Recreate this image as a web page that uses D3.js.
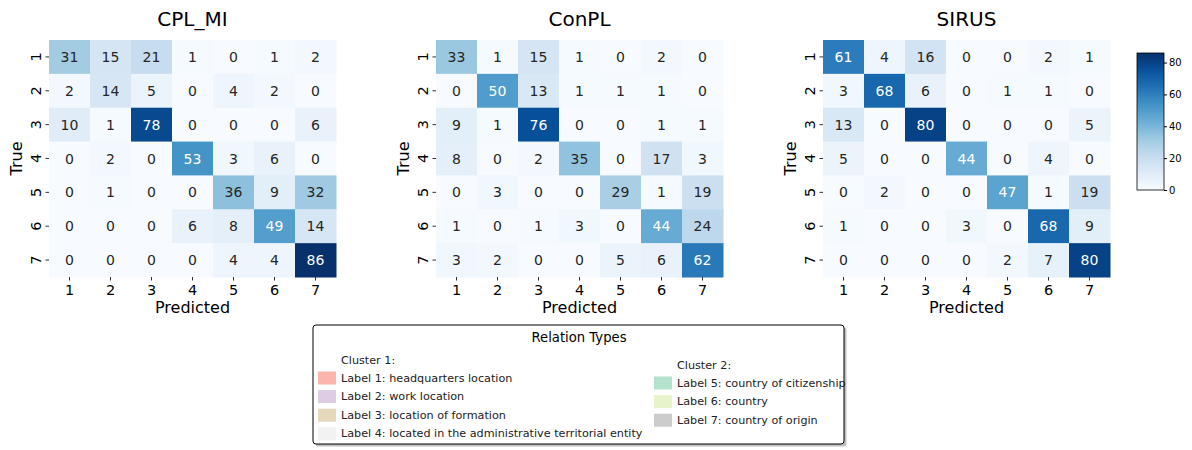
<!DOCTYPE html>
<html><head><meta charset="utf-8">
<script src="https://cdn.jsdelivr.net/npm/d3@7"></script>
<style>body{margin:0;background:#fff}svg{display:block;font-family:"DejaVu Sans",sans-serif}
.cb .tick text{font-size:10px !important;font-family:"DejaVu Sans",sans-serif !important}
</style>
</head><body><svg id="chart" width="1192" height="450"></svg>
<script>
const categories = ["1","2","3","4","5","6","7"];
const titles = ["CPL_MI","ConPL","SIRUS"];
const cplmi = [
 [31,15,21,1,0,1,2],
 [2,14,5,0,4,2,0],
 [10,1,78,0,0,0,6],
 [0,2,0,53,3,6,0],
 [0,1,0,0,36,9,32],
 [0,0,0,6,8,49,14],
 [0,0,0,0,4,4,86]];
const conpl = [
 [33,1,15,1,0,2,0],
 [0,50,13,1,1,1,0],
 [9,1,76,0,0,1,1],
 [8,0,2,35,0,17,3],
 [0,3,0,0,29,1,19],
 [1,0,1,3,0,44,24],
 [3,2,0,0,5,6,62]];
const sirus = [
 [61,4,16,0,0,2,1],
 [3,68,6,0,1,1,0],
 [13,0,80,0,0,0,5],
 [5,0,0,44,0,4,0],
 [0,2,0,0,47,1,19],
 [1,0,0,3,0,68,9],
 [0,0,0,0,2,7,80]];
const colorbarTicks = [0,20,40,60,80];
const cluster1Labels = ["Label 1: headquarters location","Label 2: work location","Label 3: location of formation","Label 4: located in the administrative territorial entity"];
const cluster1Colors = ["#fbb4ae","#decbe4","#e5d8bd","#f2f2f2"];
const cluster2Labels = ["Label 5: country of citizenship","Label 6: country","Label 7: country of origin"];
const cluster2Colors = ["#b3e2cd","#e6f5c9","#cccccc"];

const matrices = [cplmi, conpl, sirus];
const svg = d3.select("#chart");
const vmax = 86;
const blues = ["#f7fbff","#deebf7","#c6dbef","#9ecae1","#6baed6","#4292c6","#2171b5","#08519c","#08306b"];
const color = d3.scaleLinear().domain(blues.map((_, i) => i * vmax / (blues.length - 1))).range(blues).clamp(true);

const lefts = [49, 436, 823];
const W = 287, plotTop = 40, H = 237;

function lum(c){
  const rgb = d3.rgb(c);
  const f = v => { v /= 255; return v <= 0.03928 ? v / 12.92 : Math.pow((v + 0.055) / 1.055, 2.4); };
  return 0.2126 * f(rgb.r) + 0.7152 * f(rgb.g) + 0.0722 * f(rgb.b);
}

matrices.forEach((m, k) => {
  const g = svg.append("g").attr("transform", `translate(${lefts[k]},${plotTop})`);
  const x = d3.scaleBand().domain(categories).range([0, W]);
  const y = d3.scaleBand().domain(categories).range([0, H]);
  const cells = [];
  m.forEach((row, i) => row.forEach((v, j) => cells.push({r: categories[i], c: categories[j], v})));
  g.selectAll("rect.cell").data(cells).join("rect")
    .attr("x", d => x(d.c)).attr("y", d => y(d.r))
    .attr("width", x.bandwidth() + 0.5).attr("height", y.bandwidth() + 0.5)
    .attr("fill", d => color(d.v));
  g.selectAll("text.val").data(cells).join("text")
    .attr("x", d => x(d.c) + x.bandwidth() / 2).attr("y", d => y(d.r) + y.bandwidth() / 2)
    .attr("text-anchor", "middle").attr("dominant-baseline", "central")
    .style("font-size", "14px")
    .attr("fill", d => lum(color(d.v)) > 0.408 ? "#262626" : "#ffffff")
    .text(d => d.v);
  const xa = g.append("g").attr("transform", `translate(0,${H})`)
    .call(d3.axisBottom(x).tickSize(3.5).tickFormat(""));
  xa.select(".domain").remove();
  xa.selectAll("line").attr("stroke", "#333");
  const ya = g.append("g").call(d3.axisLeft(y).tickSize(3.5).tickFormat(""));
  ya.select(".domain").remove();
  ya.selectAll("line").attr("stroke", "#333");
  g.selectAll("text.xt").data(categories).join("text")
    .attr("x", d => x(d) + x.bandwidth() / 2).attr("y", H + 12.5)
    .attr("text-anchor", "middle").attr("dominant-baseline", "central")
    .style("font-size", "14.5px").attr("fill", "#000").text(d => d);
  g.selectAll("text.yt").data(categories).join("text")
    .attr("transform", d => `translate(-13,${y(d) + y.bandwidth() / 2}) rotate(-90)`)
    .attr("text-anchor", "middle").attr("dominant-baseline", "central")
    .style("font-size", "14.5px").attr("fill", "#000").text(d => d);
  g.append("text").attr("x", W / 2).attr("y", H + 36).attr("text-anchor", "middle")
    .style("font-size", "16px").text("Predicted");
  g.append("text").attr("transform", `translate(${-27},${H / 2}) rotate(-90)`)
    .attr("text-anchor", "middle").style("font-size", "16px").text("True");
  g.append("text").attr("x", W / 2).attr("y", -14).attr("text-anchor", "middle")
    .style("font-size", "20px").text(titles[k]);
});

const cbX = 1137, cbW = 27, cbTop = 53, cbBot = 190;
const cy = d3.scaleLinear().domain([0, vmax]).range([cbBot, cbTop]);
const defs = svg.append("defs");
const grad = defs.append("linearGradient").attr("id", "cbg").attr("x1", 0).attr("y1", 1).attr("x2", 0).attr("y2", 0);
blues.forEach((c, i) => grad.append("stop").attr("offset", i / (blues.length - 1)).attr("stop-color", c));
svg.append("rect").attr("x", cbX).attr("y", cbTop).attr("width", cbW).attr("height", cbBot - cbTop)
  .attr("fill", "url(#cbg)").attr("stroke", "#000").attr("stroke-width", 0.8);
const ca = svg.append("g").attr("class", "cb").attr("transform", `translate(${cbX + cbW},0)`)
  .call(d3.axisRight(cy).tickValues(colorbarTicks).tickSize(3).tickPadding(2));
ca.select(".domain").remove();
ca.selectAll("text").attr("fill", "#000");

const L = {x: 313, y: 325, w: 531, h: 119};
const lg = svg.append("g");
lg.append("rect").attr("x", L.x + 2.5).attr("y", L.y + 2.5).attr("width", L.w).attr("height", L.h)
  .attr("rx", 3).attr("fill", "#808080").attr("opacity", 0.5);
lg.append("rect").attr("x", L.x).attr("y", L.y).attr("width", L.w).attr("height", L.h)
  .attr("rx", 3).attr("fill", "#fff").attr("stroke", "#000").attr("stroke-width", 1);
lg.append("text").attr("x", 579).attr("y", 337).attr("dominant-baseline", "central")
  .attr("text-anchor", "middle").style("font-size", "13.2px").text("Relation Types");
function col(x0, headY, rowY0, labels, colors, head){
  lg.append("text").attr("x", x0 + 23).attr("y", headY).attr("dominant-baseline", "central")
    .style("font-size", "11.2px").attr("fill", "#222").text(head);
  labels.forEach((t, i) => {
    const yy = rowY0 + i * 18.6;
    lg.append("rect").attr("x", x0).attr("y", yy - 6.5).attr("width", 18).attr("height", 13).attr("fill", colors[i]);
    lg.append("text").attr("x", x0 + 23).attr("y", yy).attr("dominant-baseline", "central")
      .style("font-size", "11.2px").attr("fill", "#222").text(t);
  });
}
col(318, 360, 378, cluster1Labels, cluster1Colors, "Cluster 1:");
col(654, 365, 383, cluster2Labels, cluster2Colors, "Cluster 2:");
</script></body></html>
